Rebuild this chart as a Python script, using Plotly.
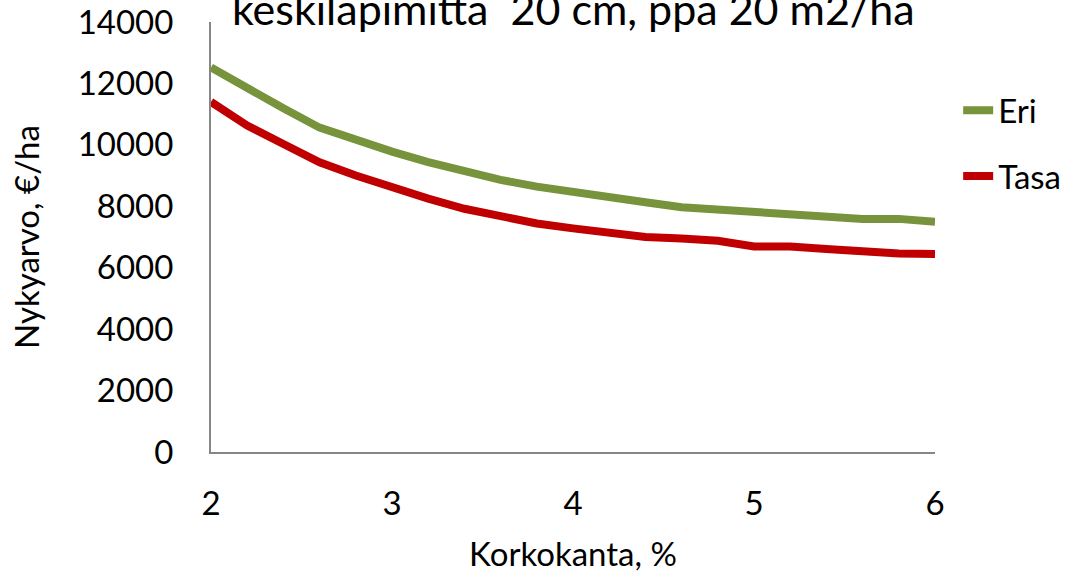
import plotly.graph_objects as go

korkokanta = [2.0, 2.2, 2.4, 2.6, 2.8, 3.0, 3.2, 3.4, 3.6, 3.8, 4.0,
              4.2, 4.4, 4.6, 4.8, 5.0, 5.2, 5.4, 5.6, 5.8, 6.0]
eri = [12520, 11820, 11190, 10560, 10150, 9780, 9440, 9130, 8860, 8640, 8450,
       8290, 8130, 7970, 7890, 7820, 7750, 7680, 7590, 7590, 7500]
tasa = [11400, 10630, 10030, 9430, 9000, 8610, 8250, 7920, 7660, 7440, 7280,
        7140, 7000, 6950, 6880, 6690, 6690, 6610, 6530, 6460, 6450]
y_ticks = [0, 2000, 4000, 6000, 8000, 10000, 12000, 14000]
y_tick_labels = [str(v) for v in y_ticks]
x_ticks = [2, 3, 4, 5, 6]

title_text = "keskiläpimitta  20 cm, ppa 20 m2/ha"
FONT = "Lato"

fig = go.Figure()
fig.add_trace(go.Scatter(x=korkokanta, y=eri, mode="lines", name="Eri",
                         legendgroup="a",
                         line=dict(color="#77933C", width=8)))
fig.add_trace(go.Scatter(x=korkokanta, y=tasa, mode="lines", name="Tasa",
                         legendgroup="b",
                         line=dict(color="#C00000", width=8)))

fig.update_layout(
    width=1075, height=583,
    margin=dict(l=211, r=140, t=22, b=131, autoexpand=False),
    paper_bgcolor="white", plot_bgcolor="white",
    font=dict(family=FONT, size=33, color="black"),
    showlegend=True,
    legend=dict(x=1.032, xanchor="left", y=0.86, yanchor="top",
                font=dict(size=33), tracegroupgap=20,
                bgcolor="rgba(0,0,0,0)"),
    xaxis=dict(range=[2, 6], tickvals=x_ticks, showgrid=False, zeroline=False,
               showline=True, linecolor="#868686", linewidth=2,
               ticks="", ticklabelstandoff=21,
               title=dict(text="Korkokanta, %", standoff=22,
                          font=dict(size=33))),
    yaxis=dict(range=[0, 14000], tickvals=y_ticks, ticktext=y_tick_labels,
               showgrid=False, zeroline=False,
               showline=True, linecolor="#868686", linewidth=2,
               ticks="", ticklabelstandoff=29,
               title=dict(text="Nykyarvo, €/ha", standoff=28,
                          font=dict(size=33))),
    annotations=[dict(text=title_text, xref="paper", yref="paper",
                      x=0.5, xanchor="center", y=1.0314, yanchor="middle",
                      showarrow=False, font=dict(size=43, family=FONT))],
)

fig.write_html("out.html")
